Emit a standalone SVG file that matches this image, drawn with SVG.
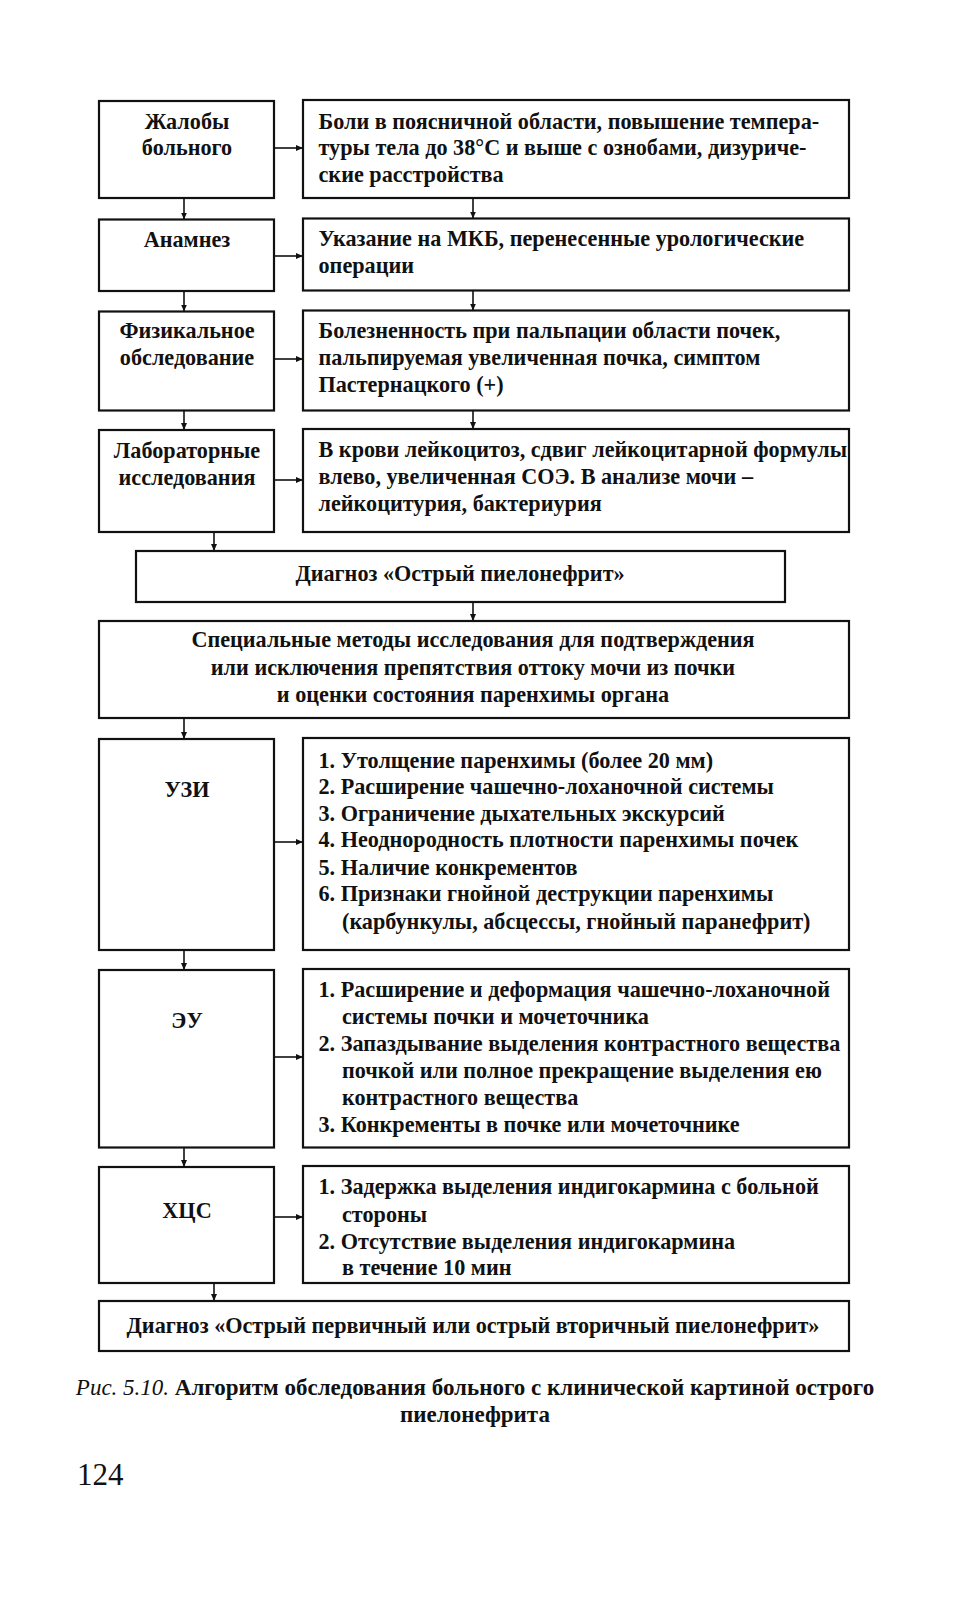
<svg xmlns="http://www.w3.org/2000/svg" width="980" height="1600" viewBox="0 0 980 1600">
<style>
  .box { fill: #fff; stroke: #111; stroke-width: 2.2; }
  .t { font-family: "Liberation Serif", "Times New Roman", serif; font-size: 22.2px; font-weight: bold; fill: #111; }
  .c { text-anchor: middle; }
  .cap { font-size: 23px; }
  .pg { font-family: "Liberation Serif", "Times New Roman", serif; font-size: 31px; fill: #111; }
  .ln { stroke: #111; stroke-width: 1.6; fill: none; marker-end: url(#ah); }
</style>
<defs>
  <marker id="ah" markerWidth="8" markerHeight="8" refX="7" refY="4" orient="auto" markerUnits="userSpaceOnUse">
    <path d="M0,1 L7,4 L0,7 Z" fill="#111"/>
  </marker>
</defs>
<rect x="0" y="0" width="980" height="1600" fill="#fff"/>

<g id="n1l"><rect class="box" x="99" y="101" width="175" height="97"/>
  <text class="t c" x="187" y="129">Жалобы</text><text class="t c" x="187" y="155">больного</text></g>
<g id="n1r"><rect class="box" x="303" y="100" width="546" height="98"/>
  <text class="t" x="318.5" y="129">Боли в поясничной области, повышение темпера-</text>
  <text class="t" x="318.5" y="155">туры тела до 38°С и выше с ознобами, дизуриче-</text>
  <text class="t" x="318.5" y="182">ские расстройства</text></g>

<g id="n2l"><rect class="box" x="99" y="219.5" width="175" height="71.5"/>
  <text class="t c" x="187" y="247">Анамнез</text></g>
<g id="n2r"><rect class="box" x="303" y="218.5" width="546" height="72"/>
  <text class="t" x="318.5" y="246">Указание на МКБ, перенесенные урологические</text>
  <text class="t" x="318.5" y="272.5">операции</text></g>

<g id="n3l"><rect class="box" x="99" y="311.5" width="175" height="99"/>
  <text class="t c" x="187" y="338">Физикальное</text><text class="t c" x="187" y="364.5">обследование</text></g>
<g id="n3r"><rect class="box" x="303" y="310.5" width="546" height="100"/>
  <text class="t" x="318.5" y="338">Болезненность при пальпации области почек,</text>
  <text class="t" x="318.5" y="364.5">пальпируемая увеличенная почка, симптом</text>
  <text class="t" x="318.5" y="392">Пастернацкого (+)</text></g>

<g id="n4l"><rect class="box" x="99" y="430" width="175" height="102"/>
  <text class="t c" x="187" y="458">Лабораторные</text><text class="t c" x="187" y="485">исследования</text></g>
<g id="n4r"><rect class="box" x="303" y="429" width="546" height="103"/>
  <text class="t" x="318.5" y="457">В крови лейкоцитоз, сдвиг лейкоцитарной формулы</text>
  <text class="t" x="318.5" y="484">влево, увеличенная СОЭ. В анализе мочи –</text>
  <text class="t" x="318.5" y="511">лейкоцитурия, бактериурия</text></g>

<g id="d1"><rect class="box" x="136" y="551" width="649" height="51"/>
  <text class="t c" x="460" y="581">Диагноз «Острый пиелонефрит»</text></g>

<g id="sp"><rect class="box" x="99" y="621" width="750" height="97"/>
  <text class="t c" x="473" y="647">Специальные методы исследования для подтверждения</text>
  <text class="t c" x="473" y="675">или исключения препятствия оттоку мочи из почки</text>
  <text class="t c" x="473" y="702">и оценки состояния паренхимы органа</text></g>

<g id="uzi"><rect class="box" x="99" y="739" width="175" height="211"/>
  <text class="t c" x="187" y="797">УЗИ</text></g>
<g id="uzir"><rect class="box" x="303" y="738" width="546" height="212"/>
  <text class="t" x="318.5" y="768">1. Утолщение паренхимы (более 20 мм)</text>
  <text class="t" x="318.5" y="794">2. Расширение чашечно-лоханочной системы</text>
  <text class="t" x="318.5" y="821">3. Ограничение дыхательных экскурсий</text>
  <text class="t" x="318.5" y="847">4. Неоднородность плотности паренхимы почек</text>
  <text class="t" x="318.5" y="875">5. Наличие конкрементов</text>
  <text class="t" x="318.5" y="901">6. Признаки гнойной деструкции паренхимы</text>
  <text class="t" x="342" y="929">(карбункулы, абсцессы, гнойный паранефрит)</text></g>

<g id="eu"><rect class="box" x="99" y="970" width="175" height="177.5"/>
  <text class="t c" x="187" y="1028">ЭУ</text></g>
<g id="eur"><rect class="box" x="303" y="969" width="546" height="178.5"/>
  <text class="t" x="318.5" y="997">1. Расширение и деформация чашечно-лоханочной</text>
  <text class="t" x="342" y="1024">системы почки и мочеточника</text>
  <text class="t" x="318.5" y="1050.5">2. Запаздывание выделения контрастного вещества</text>
  <text class="t" x="342" y="1078">почкой или полное прекращение выделения ею</text>
  <text class="t" x="342" y="1104.5">контрастного вещества</text>
  <text class="t" x="318.5" y="1132">3. Конкременты в почке или мочеточнике</text></g>

<g id="hcs"><rect class="box" x="99" y="1167" width="175" height="116"/>
  <text class="t c" x="187" y="1218">ХЦС</text></g>
<g id="hcsr"><rect class="box" x="303" y="1166" width="546" height="117"/>
  <text class="t" x="318.5" y="1194">1. Задержка выделения индигокармина с больной</text>
  <text class="t" x="342" y="1222">стороны</text>
  <text class="t" x="318.5" y="1248.5">2. Отсутствие выделения индигокармина</text>
  <text class="t" x="342" y="1275">в течение 10 мин</text></g>

<g id="d2"><rect class="box" x="99" y="1301" width="750" height="50"/>
  <text class="t c" x="473" y="1333">Диагноз «Острый первичный или острый вторичный пиелонефрит»</text></g>

<g id="connectors">
  <line class="ln" x1="274" y1="148" x2="303" y2="148"/>
  <line class="ln" x1="274" y1="256" x2="303" y2="256"/>
  <line class="ln" x1="274" y1="359" x2="303" y2="359"/>
  <line class="ln" x1="274" y1="480" x2="303" y2="480"/>
  <line class="ln" x1="274" y1="842" x2="303" y2="842"/>
  <line class="ln" x1="274" y1="1057" x2="303" y2="1057"/>
  <line class="ln" x1="274" y1="1217" x2="303" y2="1217"/>
  <line class="ln" x1="184" y1="198" x2="184" y2="219.5"/>
  <line class="ln" x1="473" y1="198" x2="473" y2="218.5"/>
  <line class="ln" x1="184" y1="291" x2="184" y2="311.5"/>
  <line class="ln" x1="473" y1="290.5" x2="473" y2="310.5"/>
  <line class="ln" x1="184" y1="410.5" x2="184" y2="430"/>
  <line class="ln" x1="473" y1="410.5" x2="473" y2="429"/>
  <line class="ln" x1="214" y1="532" x2="214" y2="551"/>
  <line class="ln" x1="473" y1="602" x2="473" y2="621"/>
  <line class="ln" x1="184" y1="718" x2="184" y2="739"/>
  <line class="ln" x1="184" y1="950" x2="184" y2="970"/>
  <line class="ln" x1="184" y1="1147.5" x2="184" y2="1167"/>
  <line class="ln" x1="214" y1="1283" x2="214" y2="1301"/>
</g>

<g id="caption">
  <text class="t c cap" x="475" y="1394.5"><tspan font-style="italic" font-weight="normal">Рис. 5.10.</tspan> Алгоритм обследования больного с клинической картиной острого</text>
  <text class="t c cap" x="475" y="1422">пиелонефрита</text>
</g>
<text class="pg" x="77" y="1485">124</text>
</svg>
